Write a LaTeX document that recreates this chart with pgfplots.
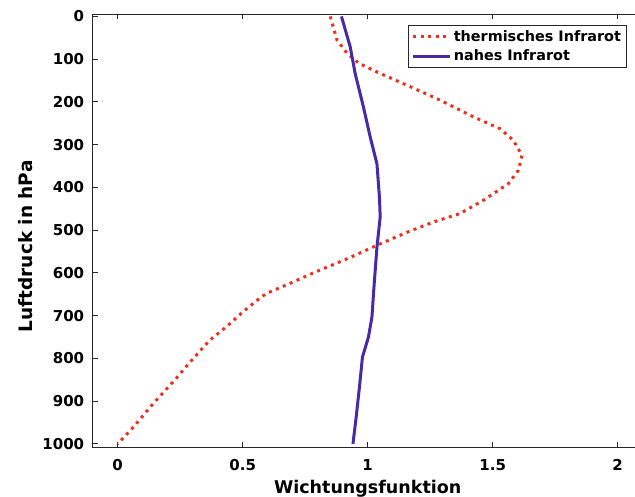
\documentclass[border=0pt]{standalone}
\usepackage{pgfplots}
\pgfplotsset{compat=1.18}
\usepackage{fontspec}
\setmainfont{DejaVu Sans}
\definecolor{thermred}{RGB}{236,48,30}
\definecolor{nahblue}{RGB}{72,42,168}

\begin{document}
\begin{tikzpicture}
\begin{axis}[name=ax, scale only axis, width=550pt, height=433pt,
  xmin=-0.1, xmax=2.1, ymin=-5, ymax=1008, y dir=reverse,
  xtick={0,0.5,1,1.5,2}, ytick={0,100,...,1000},
  scaled ticks=false,
  tick align=inside, major tick length=5pt,
  tick style={line width=1pt, black!85},
  axis line style={line width=1.2pt, black!85},
  tick label style={font=\fontsize{15}{16}\selectfont\bfseries,
    /pgf/number format/assume math mode=true, /pgf/number format/1000 sep={}},
  xticklabel style={yshift=-9pt},
  yticklabel style={xshift=-5pt},
  xlabel={Wichtungsfunktion}, ylabel={Luftdruck in hPa},
  label style={font=\fontsize{17.5}{20}\selectfont\bfseries},
  xlabel style={at={(ticklabel cs:0.5,2pt)}},
  ylabel style={font=\fontsize{18.5}{20}\selectfont\bfseries, at={(ticklabel cs:0.464,3pt)}},
  legend style={at={(0.574,0.975)}, anchor=north west, draw=black!85, line width=0.8pt,
    font=\fontsize{14.4}{16}\selectfont\bfseries, inner xsep=3pt, inner ysep=3pt,
    row sep=3pt},
  legend cell align=left,
  legend image code/.code={\draw[#1] (0pt,0pt) -- (37pt,0pt);},
]
\addplot[thermred, line width=3pt, line cap=butt, dash pattern=on 3pt off 4.5pt] coordinates {
(0.85,0) (0.877,55) (0.917,86) (0.963,109) (1.037,130) (1.157,161) (1.29,196)
(1.423,235) (1.53,263) (1.583,290) (1.617,325) (1.603,360) (1.563,391) (1.463,430)
(1.37,461) (1.263,481) (1.157,505) (1.05,532) (0.91,569) (0.79,598) (0.683,626)
(0.603,646) (0.577,655) (0.503,690) (0.437,725) (0.367,758) (0.286,811) (0.226,852)
(0.143,905) (0.067,958) (0,1000)
};
\addlegendentry{thermisches Infrarot}
\addplot[nahblue, line width=3pt] coordinates {
(0.895,0) (0.93,71) (0.95,134) (0.983,212) (1.01,282) (1.037,345) (1.047,423)
(1.05,469) (1.037,540) (1.026,625) (1.017,703) (1.003,750) (0.979,797)
(0.967,867) (0.954,937) (0.941,1000)
};
\addlegendentry{nahes Infrarot}
\end{axis}
\pgfresetboundingbox
\useasboundingbox ([shift={(-92.7pt,-49.7pt)}]ax.south west) rectangle ++(635pt,497pt);
\end{tikzpicture}
\end{document}
